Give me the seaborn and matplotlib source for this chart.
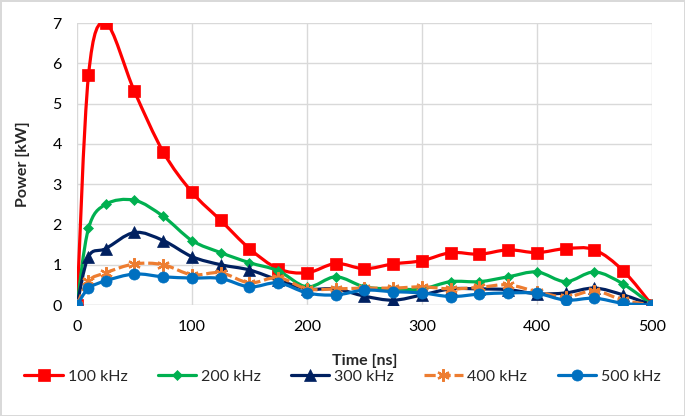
import numpy as np
import pandas as pd
import matplotlib
matplotlib.use("Agg")
import matplotlib.pyplot as plt
from matplotlib.path import Path
from matplotlib.patches import PathPatch
from matplotlib.lines import Line2D
import seaborn as sns

time_ns = [0, 10, 25, 50, 75, 100, 125, 150, 175, 200, 225, 250, 275, 300, 325, 350, 375, 400, 425, 450, 475, 500]
p100 = [0, 5.7, 7.0, 5.3, 3.8, 2.8, 2.1, 1.4, 0.9, 0.8, 1.03, 0.9, 1.02, 1.1, 1.3, 1.26, 1.37, 1.3, 1.4, 1.37, 0.85, 0]
p200 = [0, 1.9, 2.5, 2.6, 2.2, 1.6, 1.3, 1.05, 0.85, 0.45, 0.7, 0.45, 0.4, 0.4, 0.58, 0.58, 0.7, 0.82, 0.58, 0.82, 0.52, 0]
p300 = [0, 1.2, 1.4, 1.8, 1.6, 1.2, 1.0, 0.87, 0.62, 0.4, 0.4, 0.22, 0.12, 0.25, 0.4, 0.4, 0.38, 0.28, 0.3, 0.42, 0.25, 0]
p400 = [0, 0.6, 0.8, 1.02, 1.0, 0.75, 0.8, 0.55, 0.68, 0.4, 0.4, 0.42, 0.42, 0.45, 0.4, 0.44, 0.5, 0.33, 0.2, 0.35, 0.12, 0]
p500 = [0, 0.41, 0.6, 0.77, 0.7, 0.67, 0.66, 0.45, 0.55, 0.3, 0.25, 0.37, 0.33, 0.3, 0.21, 0.27, 0.3, 0.29, 0.12, 0.17, 0.04, 0]

labels = ["100 kHz", "200 kHz", "300 kHz", "400 kHz", "500 kHz"]
series = [p100, p200, p300, p400, p500]
colors = ["#FF0000", "#00B050", "#002060", "#ED7D31", "#0070C0"]
markers = ["s", "D", "^", (6, 2, 0), "o"]
msizes = [8, 5.5, 8, 9, 8]
lstyles = ["-", "-", "-", (0, (3.5, 1.2)), "-"]

sns.set_style("white")
plt.rcParams["font.family"] = ["Lato", "DejaVu Sans"]

fig = plt.figure(figsize=(6.85, 4.16), dpi=100, edgecolor="#d9d9d9", linewidth=2)
ax = fig.add_axes([0.1124, 0.2668, 0.8394, 0.6779])


def smooth_path(x, y):
    # excel-like smoothed line: bezier segments through the data points
    pts = np.column_stack([x, y]).astype(float)
    ext = np.vstack([pts[0], pts, pts[-1]])
    verts = [pts[0]]
    codes = [Path.MOVETO]
    for i in range(len(pts) - 1):
        p0, p1, p2, p3 = ext[i], ext[i + 1], ext[i + 2], ext[i + 3]
        verts += [p1 + (p2 - p0) / 6, p2 - (p3 - p1) / 6, p2]
        codes += [Path.CURVE4] * 3
    return Path(verts, codes)


handles = []
for i, (lab, vals) in enumerate(zip(labels, series)):
    df = pd.DataFrame({"t": time_ns, "p": vals})
    ax.add_patch(PathPatch(smooth_path(df["t"], df["p"]), facecolor="none",
                           edgecolor=colors[i], lw=2.3, linestyle=lstyles[i],
                           zorder=2 + i * 0.1))
    mk = markers[i]
    unfilled = isinstance(mk, tuple)
    sns.lineplot(data=df, x="t", y="p", ax=ax, linestyle="", marker=mk,
                 markersize=msizes[i], color=colors[i],
                 markeredgecolor=colors[i], markeredgewidth=1.6 if unfilled else 0.5,
                 zorder=2.05 + i * 0.1)
    handles.append(Line2D([], [], color=colors[i], lw=2.3, linestyle=lstyles[i],
                          marker=mk, markersize=msizes[i],
                          markeredgewidth=1.6 if unfilled else 0.5))

ax.set_xlim(0, 500)
ax.set_ylim(0, 7)
ax.set_xticks(range(0, 501, 100))
ax.set_yticks(range(0, 8))
ax.grid(True, color="#d9d9d9", lw=1)
for s in ax.spines.values():
    s.set_visible(False)
ax.axhline(0, color="#d9d9d9", lw=1, zorder=1)
ax.tick_params(length=0, labelsize=11.5, colors="#000000", pad=11)
ax.set_xlabel("Time [ns]", fontsize=11.5, fontweight="bold", labelpad=14)
ax.set_ylabel("Power [kW]", fontsize=11.5, fontweight="bold", labelpad=16)

fig.legend(handles, labels, loc="center", bbox_to_anchor=(0.5, 0.095), ncol=5,
           frameon=False, fontsize=11.5, handlelength=2.4, columnspacing=1.9,
           handletextpad=0.3)

fig.savefig("out.png", dpi=100)
